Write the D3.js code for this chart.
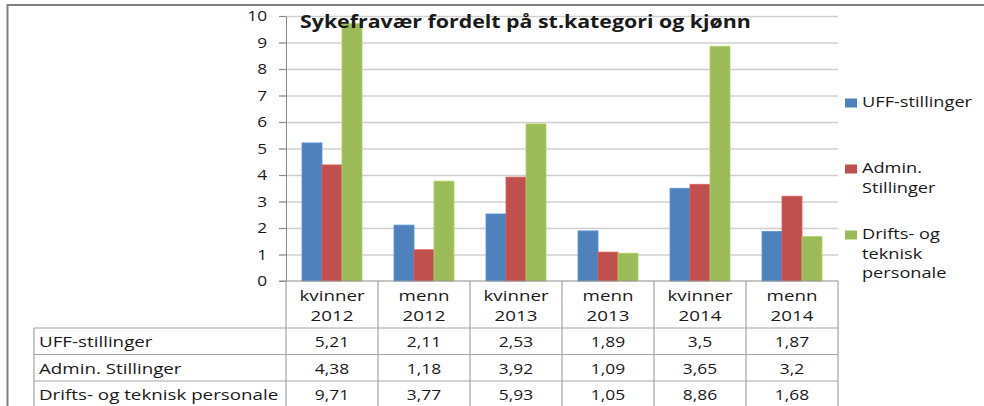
<!DOCTYPE html>
<html>
<head>
<meta charset="utf-8">
<script src="https://cdn.jsdelivr.net/npm/d3@7"></script>
<style>
  body { margin: 0; background: #fff; }
  svg { display: block; font-family: "Open Sans", sans-serif; }
</style>
</head>
<body>
<svg id="chart" width="984" height="406"></svg>
<script>
const categories = [["kvinner", "2012"], ["menn", "2012"], ["kvinner", "2013"],
                    ["menn", "2013"], ["kvinner", "2014"], ["menn", "2014"]];
const seriesNames = ["UFF-stillinger", "Admin. Stillinger", "Drifts- og teknisk personale"];
const legendLabels = [["UFF-stillinger"], ["Admin.", "Stillinger"], ["Drifts- og", "teknisk", "personale"]];
const uffValues = [5.21, 2.11, 2.53, 1.89, 3.5, 1.87];
const adminValues = [4.38, 1.18, 3.92, 1.09, 3.65, 3.2];
const driftsValues = [9.71, 3.77, 5.93, 1.05, 8.86, 1.68];
const yTicks = [0, 1, 2, 3, 4, 5, 6, 7, 8, 9, 10];
const colors = ["#4f81bd", "#c0504d", "#9bbb59"];
const title = "Sykefravær fordelt på st.kategori og kjønn";

const allValues = [uffValues, adminValues, driftsValues];

let svg = d3.select("#chart");

// outer frame
svg.append("rect")
  .attr("x", 7.5).attr("y", 5)
  .attr("width", 1000).attr("height", 420)
  .attr("fill", "none")
  .attr("stroke", "#808080")
  .attr("stroke-width", 2);

let plotLeft = 286, plotRight = 838, plotTop = 16, plotBottom = 281;
let xScale = d3.scaleBand()
  .domain(d3.range(categories.length))
  .range([plotLeft, plotRight])
  .padding(0);
let xInner = d3.scaleBand()
  .domain(d3.range(seriesNames.length))
  .range([0, xScale.bandwidth()])
  .paddingInner(0)
  .paddingOuter(0.8);
let yScale = d3.scaleLinear().domain([0, 10]).range([plotBottom, plotTop]);

// stretched text helper (the source picture is widened)
function stretchText(g, x, y, str, opts) {
  opts = opts || {};
  return g.append("text")
    .attr("transform", `translate(${x},${y}) scale(${opts.sx || 1.3},1)`)
    .attr("text-anchor", opts.anchor || "start")
    .attr("font-size", opts.size || 14)
    .attr("font-weight", opts.weight || "normal")
    .attr("fill", "#1a1a1a")
    .text(str);
}

// gridlines
let grid = svg.append("g")
  .attr("transform", `translate(${plotLeft},0)`)
  .call(d3.axisLeft(yScale).tickValues(yTicks.slice(1)).tickSize(-(plotRight - plotLeft + 7)).tickFormat(""));
grid.select(".domain").remove();
grid.selectAll("line")
  .attr("transform", "translate(-7,0)")
  .attr("stroke", "#d0d0d0")
  .attr("stroke-width", 1.5);

// y axis
let gY = svg.append("g")
  .attr("transform", `translate(${plotLeft},0)`)
  .call(d3.axisLeft(yScale).tickValues(yTicks).tickSize(7).tickPadding(9.5).tickSizeOuter(0));
gY.select(".domain").attr("stroke", "#8c8c8c");
gY.selectAll("line").attr("stroke", "#8c8c8c");
gY.selectAll("text")
  .attr("font-size", 15)
  .attr("font-family", "Open Sans, sans-serif")
  .attr("fill", "#1a1a1a")
  .attr("transform", "scale(1.15,1)");

// bars
let groups = svg.selectAll("g.series")
  .data(allValues)
  .enter()
  .append("g")
  .attr("class", "series")
  .attr("fill", (d, i) => colors[i]);

groups.each(function (vals, si) {
  d3.select(this).selectAll("rect")
    .data(vals)
    .enter()
    .append("rect")
    .attr("x", (d, i) => xScale(i) + xInner(si))
    .attr("y", d => yScale(d))
    .attr("width", xInner.bandwidth())
    .attr("height", d => yScale(0) - yScale(d))
    .attr("stroke", d3.color(colors[si]).brighter(0.4))
    .attr("stroke-width", 0.8);
});

// category axis line (value 0)
svg.append("line")
  .attr("x1", plotLeft - 7).attr("x2", plotRight)
  .attr("y1", yScale(0)).attr("y2", yScale(0))
  .attr("stroke", "#8c8c8c").attr("stroke-width", 1.2);

// data table
let tableTop = 328, rowH = 26.5, tableLeft = 34;
let tbl = svg.append("g");
let rowLines = d3.range(seriesNames.length + 1).map(i => tableTop + i * rowH);
tbl.selectAll("line.row")
  .data(rowLines)
  .enter()
  .append("line")
  .attr("class", "row")
  .attr("x1", tableLeft).attr("x2", plotRight)
  .attr("y1", d => d).attr("y2", d => d)
  .attr("stroke", "#a6a6a6").attr("stroke-width", 1.2);

let colLines = d3.range(categories.length + 1).map(i => i < categories.length ? xScale(i) : plotRight);
tbl.selectAll("line.col")
  .data(colLines)
  .enter()
  .append("line")
  .attr("class", "col")
  .attr("x1", d => d).attr("x2", d => d)
  .attr("y1", yScale(0)).attr("y2", 420)
  .attr("stroke", "#a6a6a6").attr("stroke-width", 1.2);
tbl.append("line")
  .attr("x1", tableLeft).attr("x2", tableLeft)
  .attr("y1", tableTop).attr("y2", 420)
  .attr("stroke", "#a6a6a6").attr("stroke-width", 1.2);

// category labels
categories.forEach((lines, i) => {
  let cx = xScale(i) + xScale.bandwidth() / 2;
  lines.forEach((ln, k) => {
    stretchText(svg, cx, yScale(0) + 20 + k * 20, ln, {anchor: "middle", size: 15, sx: 1.25});
  });
});

// row labels + values
seriesNames.forEach((name, r) => {
  let base = tableTop + r * rowH + 19;
  stretchText(svg, tableLeft + 5, base, name, {size: 14, sx: 1.34});
  allValues[r].forEach((v, i) => {
    stretchText(svg, xScale(i) + xScale.bandwidth() / 2, base,
      String(v).replace(".", ","), {anchor: "middle", size: 14.5, sx: 1.2});
  });
});

// legend
let legendX = 845;
let legendTops = [107, 173, 239];
legendLabels.forEach((lines, i) => {
  svg.append("rect")
    .attr("x", legendX).attr("y", legendTops[i] - 8.5)
    .attr("width", 12).attr("height", 9)
    .attr("fill", colors[i]);
  lines.forEach((ln, k) => {
    stretchText(svg, legendX + 17, legendTops[i] + k * 19.5, ln, {size: 14, sx: 1.3});
  });
});

// title
let t = stretchText(svg, 300, 28, title, {size: 18, weight: "bold", sx: 1});
let tw = t.node().getComputedTextLength();
t.attr("transform", `translate(300,28) scale(${451 / tw},1)`);
</script>
</body>
</html>
